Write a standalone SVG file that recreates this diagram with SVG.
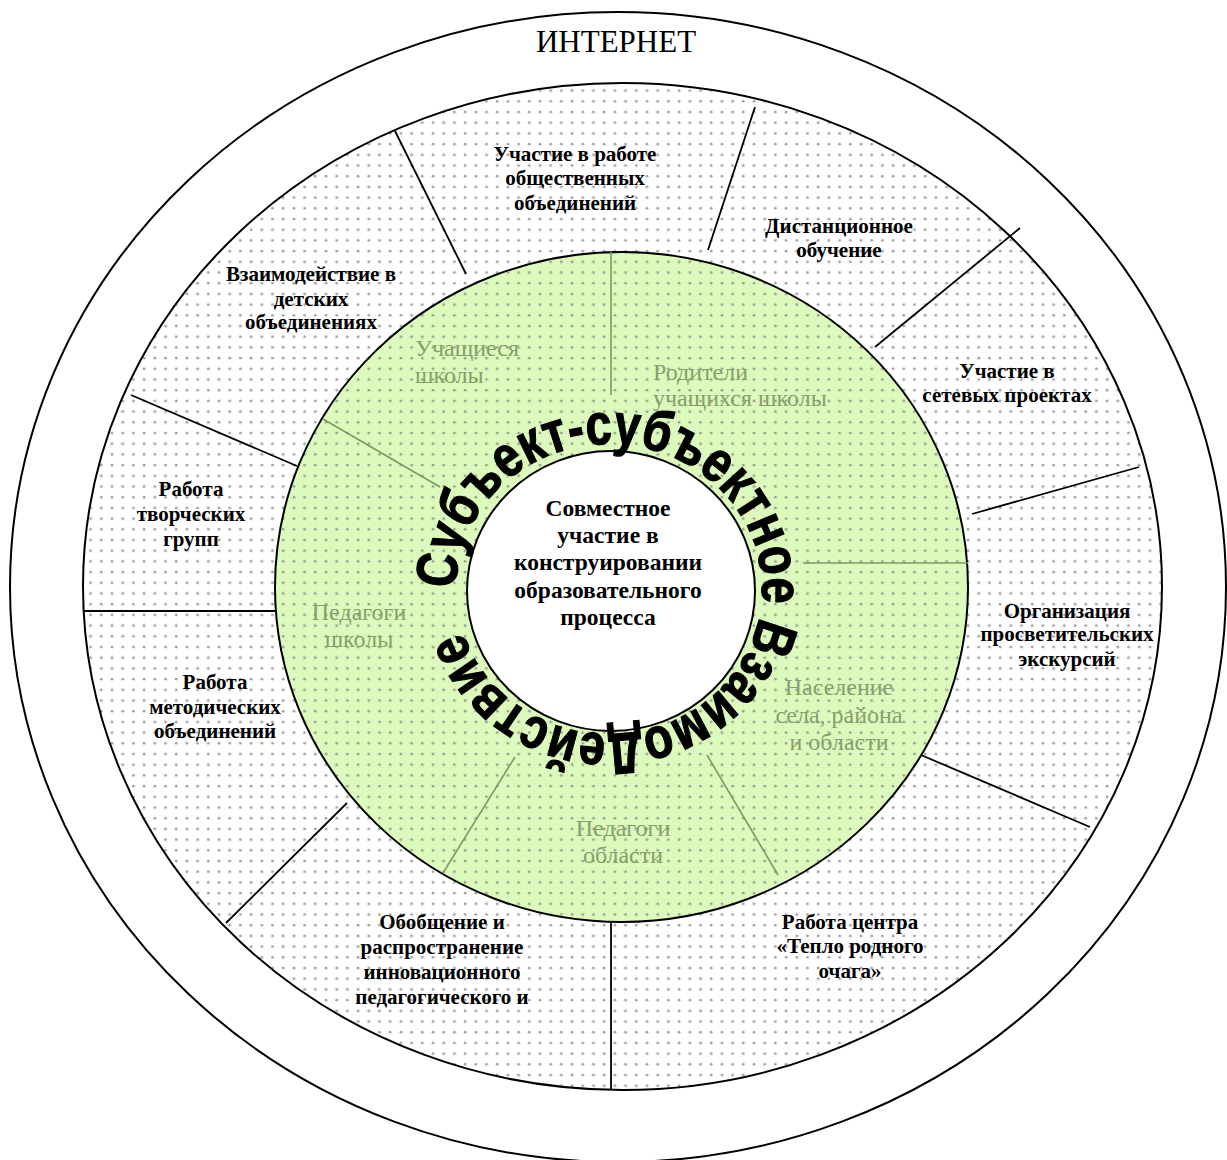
<svg xmlns="http://www.w3.org/2000/svg" width="1227" height="1160" viewBox="0 0 1227 1160">
<defs>
<pattern id="dots" width="10.7" height="10.7" patternUnits="userSpaceOnUse">
<circle cx="5" cy="5" r="1.4" fill="#8a8a8a" fill-opacity="0.8"/>
</pattern>
<path id="ringPath" d="M 456 589 A 153 145 0 1 1 762 589 A 153 145 0 1 1 456 589"/>
<style>
.ring{stroke:#000;stroke-width:2}
.div{stroke:#000;stroke-width:1.8;fill:none}
.gdiv{stroke:#7d9a62;stroke-width:1.6;fill:none}
.lbl{font-family:"Liberation Serif","Times New Roman",serif;font-weight:bold;font-size:21px;fill:#000;text-anchor:middle}
.glbl{font-family:"Liberation Serif","Times New Roman",serif;font-size:24px;fill:#879e6d}
.ctr{font-family:"Liberation Serif","Times New Roman",serif;font-weight:bold;font-size:23.5px;fill:#000;text-anchor:middle}
.arc{font-family:"Liberation Sans",Arial,sans-serif;font-weight:bold;font-size:58px;fill:#000;stroke:#000;stroke-width:1.2}
</style>
</defs>
<rect width="1227" height="1160" fill="#fff"/>

<g id="internet">
<ellipse cx="618" cy="587" rx="608" ry="575" fill="#fff" class="ring"/>
<text x="616" y="52" font-family="Liberation Serif, Times New Roman, serif" font-size="31" text-anchor="middle">ИНТЕРНЕТ</text>
</g>

<g id="outer-ring">
<ellipse cx="622.5" cy="586.5" rx="539.5" ry="503.5" fill="#fff"/>
<ellipse cx="622.5" cy="586.5" rx="539.5" ry="503.5" fill="url(#dots)" class="ring"/>
</g>

<g id="green-ring">
<ellipse cx="621.5" cy="587" rx="346.5" ry="335" fill="#dcfabb"/>
<ellipse cx="621.5" cy="587" rx="346.5" ry="335" fill="url(#dots)" class="ring"/>
</g>

<g id="connectors">
<line class="div" x1="466" y1="274" x2="395" y2="131"/>
<line class="div" x1="708" y1="250" x2="755" y2="107"/>
<line class="div" x1="875" y1="347" x2="1020" y2="228"/>
<line class="div" x1="972" y1="514" x2="1139" y2="467"/>
<line class="div" x1="921" y1="755" x2="1090" y2="827"/>
<line class="div" x1="611" y1="922" x2="611" y2="1090"/>
<line class="div" x1="347" y1="803" x2="226" y2="923"/>
<line class="div" x1="83" y1="611" x2="275" y2="611"/>
<line class="div" x1="131" y1="395" x2="297" y2="466"/>
<line class="gdiv" x1="611" y1="252" x2="611" y2="395"/>
<line class="gdiv" x1="323" y1="419" x2="440" y2="487"/>
<line class="gdiv" x1="803" y1="563" x2="968" y2="563"/>
<line class="gdiv" x1="707" y1="755" x2="778" y2="875"/>
<line class="gdiv" x1="515" y1="757" x2="443" y2="873"/>
</g>

<g id="center">
<ellipse cx="611" cy="591" rx="144" ry="140" fill="#fff" class="ring"/>
<text class="ctr"><tspan x="608" y="516">Совместное</tspan><tspan x="608" y="543.2">участие в</tspan><tspan x="608" y="570.4">конструировании</tspan><tspan x="608" y="597.6">образовательного</tspan><tspan x="608" y="624.8">процесса</tspan></text>
</g>

<g id="arc-title">
<text class="arc"><textPath href="#ringPath" textLength="893" lengthAdjust="spacingAndGlyphs">Субъект-субъектное ВзаимоДействие</textPath></text>
</g>

<g id="node-uchastie-obsh"><text class="lbl"><tspan x="575" y="161">Участие в работе</tspan><tspan x="575" y="185">общественных</tspan><tspan x="575" y="210">объединений</tspan></text></g>
<g id="node-distant"><text class="lbl"><tspan x="839" y="233">Дистанционное</tspan><tspan x="839" y="257">обучение</tspan></text></g>
<g id="node-setevye"><text class="lbl"><tspan x="1007" y="378">Участие в</tspan><tspan x="1007" y="402">сетевых проектах</tspan></text></g>
<g id="node-ekskursii"><text class="lbl"><tspan x="1067" y="618">Организация</tspan><tspan x="1067" y="641">просветительских</tspan><tspan x="1067" y="666">экскурсий</tspan></text></g>
<g id="node-teplo"><text class="lbl"><tspan x="850" y="929">Работа центра</tspan><tspan x="850" y="953">«Тепло родного</tspan><tspan x="850" y="978">очага»</tspan></text></g>
<g id="node-obobshenie"><text class="lbl"><tspan x="442" y="929">Обобщение и</tspan><tspan x="442" y="954">распространение</tspan><tspan x="442" y="979">инновационного</tspan><tspan x="442" y="1004">педагогического и</tspan></text></g>
<g id="node-metod"><text class="lbl"><tspan x="215" y="689">Работа</tspan><tspan x="215" y="714">методических</tspan><tspan x="215" y="738">объединений</tspan></text></g>
<g id="node-tvorch"><text class="lbl"><tspan x="191" y="496">Работа</tspan><tspan x="191" y="521">творческих</tspan><tspan x="191" y="546">групп</tspan></text></g>
<g id="node-detskie"><text class="lbl"><tspan x="311" y="281">Взаимодействие в</tspan><tspan x="311" y="306">детских</tspan><tspan x="311" y="329">объединениях</tspan></text></g>

<g id="node-uchashiesya"><text class="glbl"><tspan x="415" y="356">Учащиеся</tspan><tspan x="415" y="383">школы</tspan></text></g>
<g id="node-roditeli"><text class="glbl"><tspan x="653" y="380">Родители</tspan><tspan x="653" y="406">учащихся школы</tspan></text></g>
<g id="node-pedagogi-shk"><text class="glbl" text-anchor="middle"><tspan x="359" y="620">Педагоги</tspan><tspan x="359" y="647">школы</tspan></text></g>
<g id="node-naselenie"><text class="glbl" text-anchor="middle"><tspan x="839" y="695">Население</tspan><tspan x="839" y="723">села, района</tspan><tspan x="839" y="750">и области</tspan></text></g>
<g id="node-pedagogi-obl"><text class="glbl" text-anchor="middle"><tspan x="623" y="836">Педагоги</tspan><tspan x="623" y="863">области</tspan></text></g>
</svg>
